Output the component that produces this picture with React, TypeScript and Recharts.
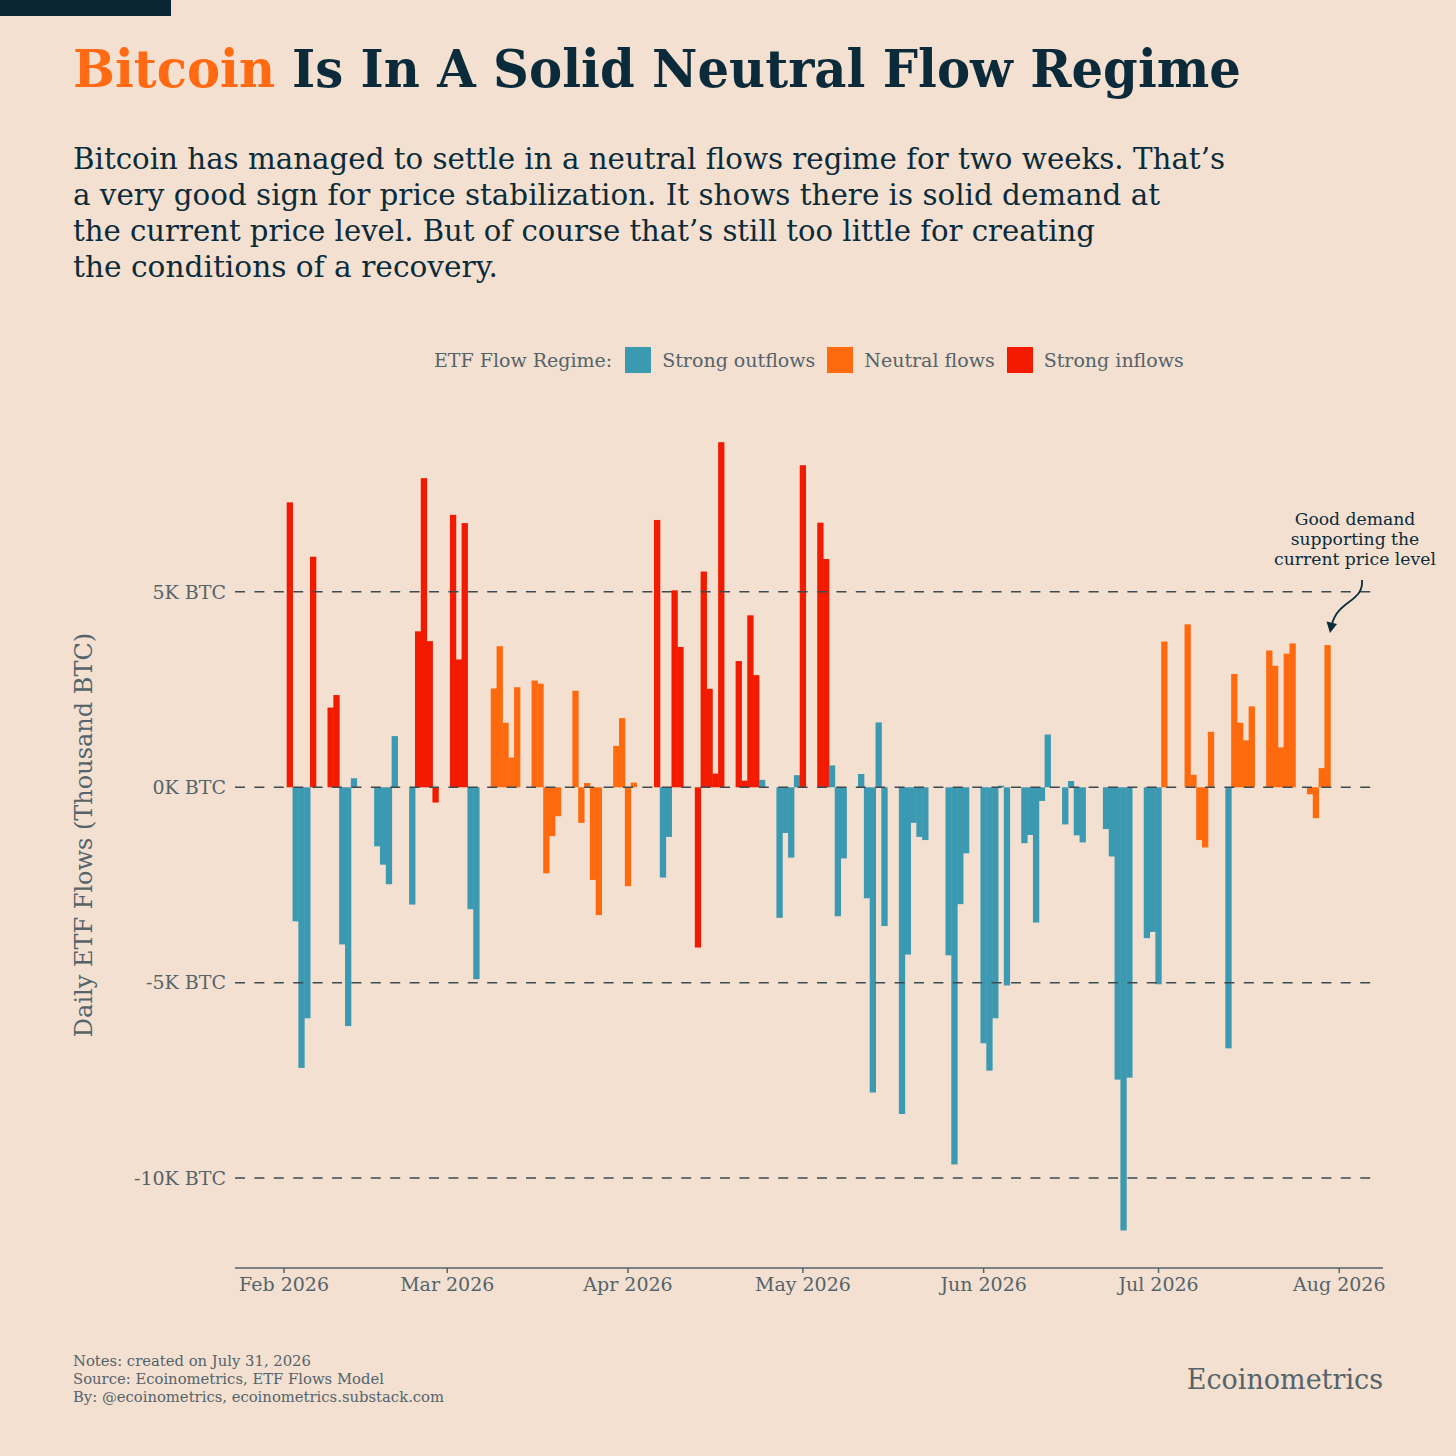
import { Bar, BarChart, Cell, ReferenceLine, XAxis, YAxis } from 'recharts';

// daily ETF flows, thousand BTC (weekdays only)
const days = [
  '02-02', '02-03', '02-04', '02-05', '02-06', '02-09', '02-10', '02-11', '02-12', '02-13',
  '02-17', '02-18', '02-19', '02-20', '02-23', '02-24', '02-25', '02-26', '02-27',
  '03-02', '03-03', '03-04', '03-05', '03-06', '03-09', '03-10', '03-11', '03-12', '03-13',
  '03-16', '03-17', '03-18', '03-19', '03-20', '03-23', '03-24', '03-25', '03-26', '03-27',
  '03-30', '03-31', '04-01', '04-02', '04-06', '04-07', '04-08', '04-09', '04-10',
  '04-13', '04-14', '04-15', '04-16', '04-17', '04-20', '04-21', '04-22', '04-23', '04-24',
  '04-27', '04-28', '04-29', '04-30', '05-01', '05-04', '05-05', '05-06', '05-07', '05-08',
  '05-11', '05-12', '05-13', '05-14', '05-15', '05-18', '05-19', '05-20', '05-21', '05-22',
  '05-26', '05-27', '05-28', '05-29', '06-01', '06-02', '06-03', '06-04', '06-05',
  '06-08', '06-09', '06-10', '06-11', '06-12', '06-15', '06-16', '06-17', '06-18',
  '06-22', '06-23', '06-24', '06-25', '06-26', '06-29', '06-30', '07-01', '07-02',
  '07-06', '07-07', '07-08', '07-09', '07-10', '07-13', '07-14', '07-15', '07-16', '07-17',
  '07-20', '07-21', '07-22', '07-23', '07-24', '07-27', '07-28', '07-29', '07-30',
];

const flows = [
  7.29, -3.43, -7.18, -5.91, 5.9, 2.04, 2.36, -4.02, -6.11, 0.23,
  -1.51, -1.98, -2.48, 1.31, -3.0, 3.99, 7.91, 3.74, -0.39,
  6.97, 3.27, 6.76, -3.12, -4.91, 2.53, 3.61, 1.65, 0.76, 2.56,
  2.73, 2.65, -2.2, -1.25, -0.74, 2.47, -0.91, 0.11, -2.37, -3.27,
  1.06, 1.77, -2.53, 0.12, 6.84, -2.31, -1.27, 5.04, 3.59,
  -4.1, 5.52, 2.52, 0.35, 8.83, 3.23, 0.17, 4.4, 2.87, 0.19,
  -3.34, -1.17, -1.8, 0.31, 8.24, 6.77, 5.84, 0.56, -3.3, -1.82,
  0.34, -2.84, -7.81, 1.66, -3.55, -8.36, -4.28, -0.91, -1.27, -1.35,
  -4.3, -9.65, -2.99, -1.69, -6.55, -7.25, -5.91, 0.04, -5.07,
  -1.43, -1.22, -3.46, -0.35, 1.35, -0.95, 0.16, -1.23, -1.41,
  -1.07, -1.77, -7.48, -11.34, -7.43, -3.86, -3.7, -5.04, 3.73,
  4.17, 0.32, -1.35, -1.54, 1.42, -6.68, 2.9, 1.65, 1.2, 2.07,
  3.5, 3.11, 1.02, 3.42, 3.68, -0.18, -0.79, 0.49, 3.64,
];

// O = strong outflows, N = neutral flows, I = strong inflows
const regimes = [
  'I', 'O', 'O', 'O', 'I', 'I', 'I', 'O', 'O', 'O',
  'O', 'O', 'O', 'O', 'O', 'I', 'I', 'I', 'I',
  'I', 'I', 'I', 'O', 'O', 'N', 'N', 'N', 'N', 'N',
  'N', 'N', 'N', 'N', 'N', 'N', 'N', 'N', 'N', 'N',
  'N', 'N', 'N', 'N', 'I', 'O', 'O', 'I', 'I',
  'I', 'I', 'I', 'I', 'I', 'I', 'I', 'I', 'I', 'O',
  'O', 'O', 'O', 'O', 'I', 'I', 'I', 'O', 'O', 'O',
  'O', 'O', 'O', 'O', 'O', 'O', 'O', 'O', 'O', 'O',
  'O', 'O', 'O', 'O', 'O', 'O', 'O', 'O', 'O',
  'O', 'O', 'O', 'O', 'O', 'O', 'O', 'O', 'O',
  'O', 'O', 'O', 'O', 'O', 'O', 'O', 'O', 'N',
  'N', 'N', 'N', 'N', 'N', 'O', 'N', 'N', 'N', 'N',
  'N', 'N', 'N', 'N', 'N', 'N', 'N', 'N', 'N',
];

const monthTicks = ['02-01', '03-01', '04-01', '05-01', '06-01', '07-01', '08-01'];
const monthLabels = ['Feb 2026', 'Mar 2026', 'Apr 2026', 'May 2026', 'Jun 2026', 'Jul 2026', 'Aug 2026'];
const yTicks = [-10, -5, 0, 5];

const regimeKeys = ['O', 'N', 'I'];
const regimeNames = ['Strong outflows', 'Neutral flows', 'Strong inflows'];
const regimeColors: Record<string, string> = { O: '#3C99B2', N: '#FF6A0E', I: '#F21B00' };

const BG = '#F3E0D0';
const NAVY = '#0B2B3B';
const GREY = '#55636B';
const SERIF = "'DejaVu Serif', serif";

const X_MIN = -8.41;
const X_MAX = 188.5;
const GRID_END = 186.8;

const dayIndex = (s: string) => {
  const [m, d] = s.split('-').map(Number);
  return (Date.UTC(2026, m - 1, d) - Date.UTC(2026, 1, 1)) / 86400000;
};

const data = days.map((s, i) => ({ t: dayIndex(s), v: flows[i], r: regimes[i] }));
const tickIdx = monthTicks.map(dayIndex);

// bars a hair wider than the day slot so neighbours touch without seams
const FlowBar = (props: any) => {
  const { x, y, width, height, fill } = props;
  if (!height) return null;
  const top = height < 0 ? y + height : y;
  return <rect x={x - 0.25} y={top} width={width + 0.5} height={Math.abs(height)} fill={fill} />;
};

export default function App() {
  return (
    <div style={{ position: 'absolute', left: 0, top: 0, width: 1456, height: 1456, background: BG, fontFamily: SERIF, overflow: 'hidden' }}>
      <div style={{ position: 'absolute', left: 0, top: 0, width: 171, height: 16, background: '#0A2533' }} />

      <svg width={1456} height={300} style={{ position: 'absolute', left: 0, top: 0 }}>
        <text x={73} y={87} fontFamily={SERIF} fontWeight="bold" fontSize={53} fill="#FF6A13" textLength={202} lengthAdjust="spacingAndGlyphs">
          Bitcoin
        </text>
        <text x={292} y={87} fontFamily={SERIF} fontWeight="bold" fontSize={53} fill={NAVY} textLength={949} lengthAdjust="spacingAndGlyphs">
          Is In A Solid Neutral Flow Regime
        </text>
        {[
          ['Bitcoin has managed to settle in a neutral flows regime for two weeks. That’s', 1152],
          ['a very good sign for price stabilization. It shows there is solid demand at', 1087],
          ['the current price level. But of course that’s still too little for creating', 1022],
          ['the conditions of a recovery.', 425],
        ].map(([line, w], i) => (
          <text key={i} x={73} y={169 + i * 36} fontFamily={SERIF} fontSize={29} fill={NAVY} textLength={w as number} lengthAdjust="spacingAndGlyphs">
            {line}
          </text>
        ))}
      </svg>

      <div style={{ position: 'absolute', left: 434, top: 347, display: 'flex', alignItems: 'center', fontSize: 19, color: GREY, whiteSpace: 'nowrap' }}>
        <span style={{ marginRight: 13 }}>ETF Flow Regime:</span>
        {regimeKeys.map((k, i) => (
          <span key={k} style={{ display: 'flex', alignItems: 'center', marginRight: 12 }}>
            <span style={{ width: 26, height: 26, background: regimeColors[k], marginRight: 11 }} />
            {regimeNames[i]}
          </span>
        ))}
      </div>

      <div style={{ position: 'absolute', left: 0, top: 400 }}>
        <BarChart width={1456} height={940} data={data} margin={{ top: 16, right: 73, bottom: 32, left: 115 }}>
          <XAxis
            dataKey="t"
            type="number"
            domain={[X_MIN, X_MAX]}
            allowDataOverflow
            ticks={tickIdx}
            interval={0}
            tickFormatter={(v: number) => monthLabels[tickIdx.indexOf(v)]}
            height={40}
            tickSize={5}
            tickMargin={5}
            axisLine={{ stroke: GREY, strokeWidth: 1.5 }}
            tickLine={{ stroke: GREY, strokeWidth: 1.5 }}
            tick={{ fill: GREY, fontSize: 19, fontFamily: SERIF }}
          />
          <YAxis
            type="number"
            domain={[-12.3, 9.5]}
            allowDataOverflow
            ticks={yTicks}
            interval={0}
            width={120}
            tickSize={0}
            tickMargin={9}
            axisLine={false}
            tickLine={false}
            tickFormatter={(v: number) => `${v}K BTC`}
            tick={{ fill: GREY, fontSize: 19, fontFamily: SERIF }}
          />
          <Bar dataKey="v" barSize={5.8} shape={FlowBar} isAnimationActive={false}>
            {data.map((d, i) => (
              <Cell key={i} fill={regimeColors[d.r]} />
            ))}
          </Bar>
          {yTicks.map((y) => (
            <ReferenceLine
              key={y}
              segment={[{ x: X_MIN, y }, { x: GRID_END, y }]}
              stroke="#3E4A52"
              strokeWidth={1.5}
              strokeDasharray="10 9.4"
            />
          ))}
        </BarChart>
      </div>

      <div
        style={{
          position: 'absolute', left: 84, top: 835, transform: 'translate(-50%, -50%) rotate(-90deg)',
          fontSize: 24, color: GREY, whiteSpace: 'nowrap',
        }}
      >
        Daily ETF Flows (Thousand BTC)
      </div>

      <div style={{ position: 'absolute', left: 1355, top: 509, transform: 'translateX(-50%)', textAlign: 'center', fontSize: 17.2, lineHeight: '20px', color: NAVY, whiteSpace: 'nowrap' }}>
        Good demand<br />supporting the<br />current price level
      </div>
      <svg width={1456} height={1456} style={{ position: 'absolute', left: 0, top: 0, pointerEvents: 'none' }}>
        <path d="M1362,580 C1364,602 1338,600 1332,624" fill="none" stroke={NAVY} strokeWidth={1.8} />
        <polygon points="1330,633 1326.5,621.5 1337,624" fill={NAVY} />
      </svg>

      <div style={{ position: 'absolute', left: 73, top: 1352, fontSize: 14.8, lineHeight: '18px', color: GREY }}>
        Notes: created on July 31, 2026<br />
        Source: Ecoinometrics, ETF Flows Model<br />
        By: @ecoinometrics, ecoinometrics.substack.com
      </div>
      <div style={{ position: 'absolute', right: 73, top: 1364, fontSize: 27, color: GREY }}>Ecoinometrics</div>
    </div>
  );
}
